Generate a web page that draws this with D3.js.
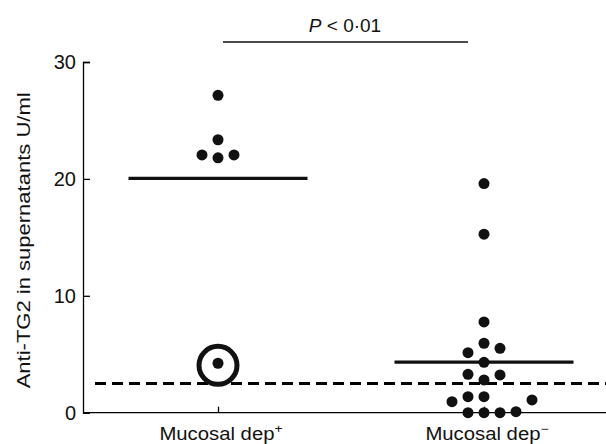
<!DOCTYPE html>
<html>
<head>
<meta charset="utf-8">
<script src="https://cdn.jsdelivr.net/npm/d3@7"></script>
<style>
  html, body { margin: 0; padding: 0; background: #fff; }
  svg { display: block; font-family: "Liberation Sans", Arial, Helvetica, sans-serif; }
</style>
</head>
<body>
<svg id="chart" width="606" height="444"></svg>
<script>
// ---- data ----
const categories = ["Mucosal dep+", "Mucosal dep−"];
const categoryMain = ["Mucosal dep", "Mucosal dep"];
const categorySup = ["+", "−"];
const depPosValues = [27.15, 23.35, 22.05, 21.8, 22.05, 4.23];
const depPosSlots  = [0, 0, -1, 0, 1, 0];
const depNegValues = [19.6, 15.27, 7.76, 5.94, 5.13, 5.51, 4.31, 3.28, 3.23, 2.8, 1.37, 1.37, 0.94, 1.09, 0, 0, 0, 0.09];
const depNegSlots  = [0, 0, 0, 0, -1, 1, 0, -1, 1, 0, -1, 0, -2, 3, -1, 0, 1, 2];
const groupMeans = [20.05, 4.32];
const cutoffValue = 2.5;
const circledValue = 4.05;      // ringed sample in dep+ group
const yTicks = [0, 10, 20, 30];
const yLabel = "Anti-TG2 in supernatants U/ml";
const pText = ["P", " < 0·01"];

// ---- scales ----
const svg = d3.select("#chart");
const y = d3.scaleLinear().domain([0, 30]).range([412.7, 62]);
const x = d3.scalePoint().domain(categories).range([218, 484]);
const slot = d3.scaleLinear().domain([0, 1]).range([0, 16]);
const axisX0 = 83, axisX1 = 606;

const groups = [
  {cat: categories[0], values: depPosValues, slots: depPosSlots},
  {cat: categories[1], values: depNegValues, slots: depNegSlots}
];

// ---- y axis ----
const yAxis = d3.axisLeft(y).tickValues(yTicks).tickSize(-7).tickSizeOuter(-7).tickPadding(7).tickFormat(d3.format("d"));
const gy = svg.append("g").attr("transform", `translate(${axisX0},0)`).call(yAxis);
gy.select(".domain").attr("stroke", "#000").attr("stroke-width", 1.3);
gy.selectAll(".tick line").attr("stroke", "#000").attr("stroke-width", 1.3);
gy.selectAll(".tick text").attr("font-size", 20).attr("fill", "#111").attr("font-family", "Liberation Sans, Arial, sans-serif");

// ---- x axis ----
svg.append("line").attr("x1", axisX0).attr("x2", axisX1).attr("y1", y(0)).attr("y2", y(0))
  .attr("stroke", "#000").attr("stroke-width", 1.3);
const xAxis = d3.axisBottom(x).tickSize(-6).tickSizeOuter(0).tickFormat("");
const gx = svg.append("g").attr("transform", `translate(0,${y(0)})`).call(xAxis);
gx.select(".domain").remove();
gx.selectAll(".tick line").attr("stroke", "#000").attr("stroke-width", 1.3);

categories.forEach((c, i) => {
  const t = svg.append("text")
    .attr("transform", `translate(${x(c) + 3},440) scale(1.16,1)`)
    .attr("text-anchor", "middle").attr("font-size", 17.5).attr("fill", "#111");
  t.append("tspan").text(categoryMain[i]);
  t.append("tspan").attr("dy", -7).attr("font-size", 12).text(categorySup[i]);
});

// y label
svg.append("text")
  .attr("transform", `translate(30,${(y(0) + y(30)) / 2 + 3}) rotate(-90)`)
  .attr("text-anchor", "middle").attr("font-size", 18.5).attr("fill", "#111")
  .attr("textLength", 296).attr("lengthAdjust", "spacingAndGlyphs")
  .text(yLabel);

// ---- cutoff dashed line ----
svg.append("line").attr("x1", 95).attr("x2", axisX1).attr("y1", y(cutoffValue)).attr("y2", y(cutoffValue))
  .attr("stroke", "#000").attr("stroke-width", 3).attr("stroke-dasharray", "11,6");

// ---- mean lines ----
svg.selectAll(".mean").data(groupMeans).join("line").attr("class", "mean")
  .attr("x1", (d, i) => x(categories[i]) - 89.5)
  .attr("x2", (d, i) => x(categories[i]) + 89.5)
  .attr("y1", d => y(d)).attr("y2", d => y(d))
  .attr("stroke", "#111").attr("stroke-width", 3.2);

// ---- ring ----
svg.append("circle").attr("cx", x(categories[0])).attr("cy", y(circledValue)).attr("r", 19)
  .attr("fill", "none").attr("stroke", "#111").attr("stroke-width", 5);

// ---- dots ----
groups.forEach(g => {
  svg.append("g").selectAll("circle")
    .data(g.values.map((v, i) => ({v, s: g.slots[i]})))
    .join("circle")
    .attr("cx", d => x(g.cat) + slot(d.s))
    .attr("cy", d => y(d.v))
    .attr("r", 5.5)
    .attr("fill", "#111");
});

// ---- significance bar ----
svg.append("line").attr("x1", 223).attr("x2", 468).attr("y1", 42).attr("y2", 42)
  .attr("stroke", "#111").attr("stroke-width", 1.3);
const pt = svg.append("text").attr("x", 345).attr("y", 32).attr("text-anchor", "middle")
  .attr("font-size", 19).attr("fill", "#111");
pt.append("tspan").attr("font-style", "italic").text(pText[0]);
pt.append("tspan").text(pText[1]);
</script>
</body>
</html>
